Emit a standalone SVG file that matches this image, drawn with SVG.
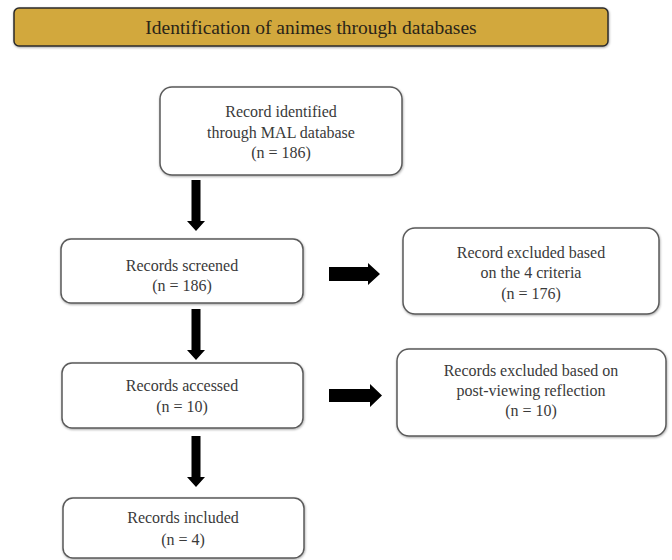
<svg xmlns="http://www.w3.org/2000/svg" width="672" height="560" viewBox="0 0 672 560">
<defs>
<filter id="sh" x="-5%" y="-10%" width="110%" height="125%">
<feDropShadow dx="0.5" dy="1" stdDeviation="0.8" flood-color="#000" flood-opacity="0.35"/>
</filter>
<style>
.box{fill:#fff;stroke:#5a5a5a;stroke-width:1.5;filter:url(#sh)}
.t{font-family:"Liberation Serif","Times New Roman",serif;font-size:16px;fill:#3a3a3a;text-anchor:middle}
.title{font-family:"Liberation Serif","Times New Roman",serif;font-size:19.5px;fill:#2a2418;text-anchor:middle}
.arr{fill:#000}
</style>
</defs>
<rect width="672" height="560" fill="#fff"/>
<g id="title">
<rect x="14" y="8" width="594" height="38" rx="5" fill="#d2a83d" stroke="#2b2b2b" stroke-width="1.5" filter="url(#sh)"/>
<text class="title" x="311" y="34">Identification of animes through databases</text>
</g>
<g id="identified">
<rect class="box" x="160" y="87" width="242" height="88" rx="12"/>
<text class="t" x="281" y="117">Record identified</text>
<text class="t" x="281" y="138">through MAL database</text>
<text class="t" x="281" y="158">(n = 186)</text>
</g>
<g id="screened">
<rect class="box" x="61" y="239" width="242" height="64" rx="10"/>
<text class="t" x="182" y="271">Records screened</text>
<text class="t" x="182" y="291">(n = 186)</text>
</g>
<g id="excluded1">
<rect class="box" x="403" y="228" width="256" height="86" rx="12"/>
<text class="t" x="531" y="258">Record excluded based</text>
<text class="t" x="531" y="278">on the 4 criteria</text>
<text class="t" x="531" y="299">(n = 176)</text>
</g>
<g id="accessed">
<rect class="box" x="62" y="363" width="241" height="65" rx="10"/>
<text class="t" x="182" y="391">Records accessed</text>
<text class="t" x="182" y="412">(n = 10)</text>
</g>
<g id="excluded2">
<rect class="box" x="397" y="349" width="269" height="87" rx="12"/>
<text class="t" x="531" y="376">Records excluded based on</text>
<text class="t" x="531" y="396">post-viewing reflection</text>
<text class="t" x="531" y="416">(n = 10)</text>
</g>
<g id="included">
<rect class="box" x="63" y="498" width="241" height="60" rx="10"/>
<text class="t" x="183" y="523">Records included</text>
<text class="t" x="183" y="545">(n = 4)</text>
</g>
<g id="connectors">
<polygon class="arr" points="191.5,180 200.5,180 200.5,221 205,221 196,231 187,221 191.5,221"/>
<polygon class="arr" points="191.5,309 200.5,309 200.5,350 205,350 196,360 187,350 191.5,350"/>
<polygon class="arr" points="191.5,436 200.5,436 200.5,477 205,477 196,487 187,477 191.5,477"/>
<polygon class="arr" points="329,267 368,267 368,263 380,274 368,285 368,281 329,281"/>
<polygon class="arr" points="329,389 370,389 370,384 382,395.5 370,407 370,402 329,402"/>
</g>
</svg>
